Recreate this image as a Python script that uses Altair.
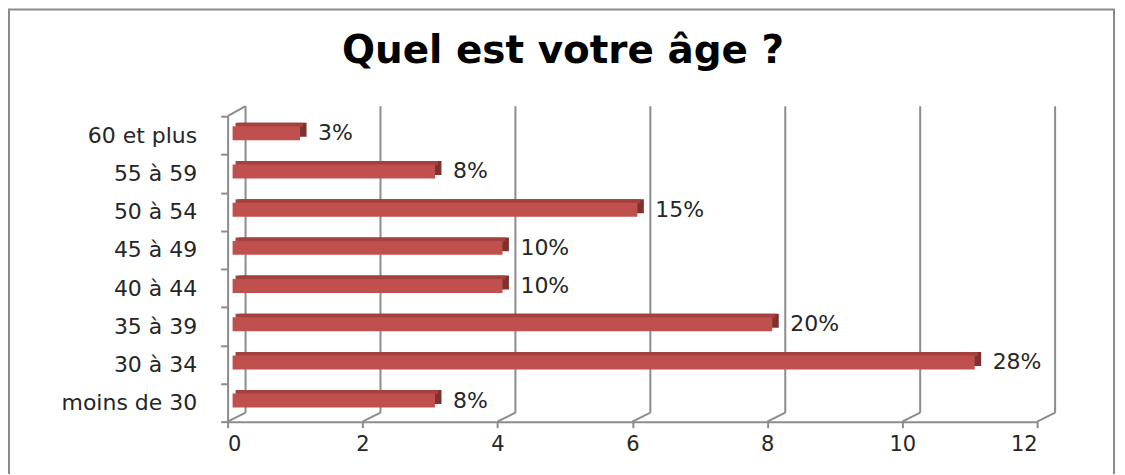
import altair as alt
import pandas as pd

categories = ["60 et plus", "55 à 59", "50 à 54", "45 à 49", "40 à 44", "35 à 39", "30 à 34", "moins de 30"]
values = [1, 3, 6, 4, 4, 8, 11, 3]
percent_labels = ["3%", "8%", "15%", "10%", "10%", "20%", "28%", "8%"]
x_ticks = [0, 2, 4, 6, 8, 10, 12]
title_text = "Quel est votre âge ?"

df = pd.DataFrame({"cat": categories, "val": values, "pct": percent_labels})
ticks_df = pd.DataFrame({"t": x_ticks})

W, H = 811, 306
FONT = "DejaVu Sans"
GRID = "#8c8c8c"
TXT = "#262626"

xs = alt.Scale(domain=[0, 12], nice=False, zero=True)
ys = alt.Scale(domain=categories, paddingInner=0, paddingOuter=0)

x_axis = alt.Axis(values=x_ticks, grid=False, domainColor=GRID, domainWidth=2,
                  tickColor=GRID, tickWidth=2, tickSize=6, labelFont=FONT,
                  labelFontSize=21, labelColor=TXT, labelPadding=6, title=None)
y_axis = alt.Axis(domainColor=GRID, domainWidth=2, tickColor=GRID, tickWidth=2,
                  tickSize=7, tickBand="extent", labelFont=FONT, labelFontSize=22,
                  labelColor=TXT, labelPadding=24, title=None)

X = alt.X("val:Q", scale=xs, axis=x_axis)
Y = alt.Y("cat:N", scale=ys, sort=categories, axis=y_axis)

base = alt.Chart(df)

side = base.mark_bar(color="#7f312f", size=14, xOffset=11.5, x2Offset=9, yOffset=-5.5).encode(x=X, y=Y)
top = base.mark_bar(color="#a4403d", size=4, xOffset=8, x2Offset=9, yOffset=-10.5).encode(x=X, y=Y)
front = base.mark_bar(color="#c0504d", size=14, xOffset=5, x2Offset=5, yOffset=-2).encode(x=X, y=Y)

labels = base.mark_text(align="left", baseline="middle", dx=23, yOffset=-2,
                        font=FONT, fontSize=22, color=TXT).encode(x=X, y=Y, text="pct:N")

# back wall gridlines
back_grid = alt.Chart(ticks_df).mark_rule(color=GRID, strokeWidth=2, xOffset=18).encode(
    x=alt.X("t:Q", scale=xs, axis=x_axis),
    y=alt.value(-10), y2=alt.value(297),
)
# floor diagonals
floor_diag = alt.Chart(ticks_df).mark_rule(color=GRID, strokeWidth=2, x2Offset=18).encode(
    x=alt.X("t:Q", scale=xs, axis=x_axis),
    x2="t:Q",
    y=alt.value(306), y2=alt.value(297),
)
# top-left wall diagonal
wall_diag = alt.Chart(pd.DataFrame({"t": [0]})).mark_rule(color=GRID, strokeWidth=2, x2Offset=18).encode(
    x=alt.X("t:Q", scale=xs, axis=x_axis),
    x2="t:Q",
    y=alt.value(0), y2=alt.value(-10),
)

# border around the whole chart
border = alt.Chart(pd.DataFrame({"k": [0]})).mark_rect(
    fill=None, stroke="#8a8a8a", strokeWidth=2
).encode(x=alt.value(-219), x2=alt.value(888), y=alt.value(-107), y2=alt.value(380))

title = alt.Chart(pd.DataFrame({"t": [title_text]})).mark_text(
    font=FONT, fontSize=39, fontWeight="bold", color="#000000", align="center", baseline="middle"
).encode(x=alt.value(336), y=alt.value(-65), text="t:N")

chart = alt.layer(border, back_grid, floor_diag, wall_diag, side, top, front, labels, title).properties(
    width=W, height=H,
    background="white",
    autosize=alt.AutoSizeParams(type="none"),
    padding={"left": 220, "top": 108, "right": 80, "bottom": 52},
).configure_view(stroke=None)

chart.save("out.html", embed_options={"renderer": "svg", "actions": False})
